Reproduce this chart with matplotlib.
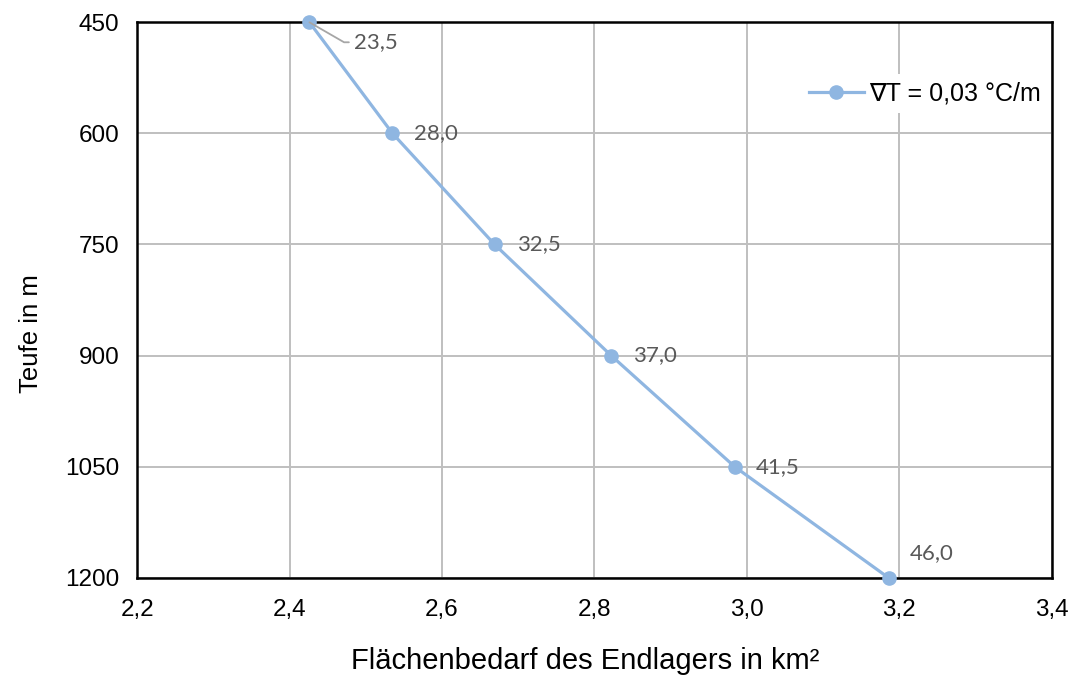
import matplotlib.pyplot as plt
from matplotlib.ticker import FuncFormatter, MultipleLocator

plt.rcParams['font.family'] = ['Liberation Sans', 'DejaVu Sans']

# Flächenbedarf (km²) je Teufe
teufe = [450, 600, 750, 900, 1050, 1200]
flaeche = [2.426, 2.535, 2.669, 2.822, 2.984, 3.186]
temperatur = ['23,5', '28,0', '32,5', '37,0', '41,5', '46,0']

# Versatz der Beschriftungen in Pixel
offsets = [(45, -20), (22, 0), (22, 0), (22, 0), (21, 0), (21, 25)]

blau = '#8fb6e1'

fig = plt.figure(figsize=(10.72, 6.75), dpi=100)
ax = fig.add_axes([0.128, 0.144, 0.853, 0.823])

ax.plot(flaeche, teufe, color=blau, lw=2.3, marker='o', markersize=9.5,
        label='∇T = 0,03 °C/m', zorder=3, clip_on=False)

for i in range(len(teufe)):
    arrow = None
    if i == 0:
        arrow = dict(arrowstyle='-', color='#a6a6a6', lw=1.3, shrinkA=2, shrinkB=0,
                     connectionstyle='angle,angleA=0,angleB=-30,rad=0')
    ax.annotate(temperatur[i], (flaeche[i], teufe[i]), xytext=offsets[i],
                textcoords='offset pixels', ha='left', va='center',
                fontsize=16, color='#595959', family=['Lato', 'DejaVu Sans'],
                arrowprops=arrow)

ax.set_xlim(2.2, 3.4)
ax.set_ylim(1200, 450)
ax.xaxis.set_major_locator(MultipleLocator(0.2))
ax.set_yticks(teufe)
ax.xaxis.set_major_formatter(FuncFormatter(lambda v, p: f'{v:.1f}'.replace('.', ',')))

ax.grid(True, color='#bfbfbf', lw=1.4)
ax.set_axisbelow(True)
for s in ax.spines.values():
    s.set_linewidth(1.8)
    s.set_color('black')

ax.tick_params(axis='both', labelsize=17.5, length=0)
ax.tick_params(axis='y', pad=13)
ax.tick_params(axis='x', pad=15)

ax.set_xlabel('Flächenbedarf des Endlagers in km²', fontsize=21)
ax.xaxis.set_label_coords(0.49, -0.125)
ax.xaxis.label.set_va('top')
ax.set_ylabel('Teufe in m', fontsize=18.5)
ax.yaxis.set_label_coords(-0.103, 0.44)

leg = ax.legend(loc='upper right', bbox_to_anchor=(0.996, 0.906), fontsize=18,
                frameon=True, fancybox=False, edgecolor='none', facecolor='white',
                framealpha=1, handlelength=2.2, handletextpad=0.2, borderpad=0.3,
                borderaxespad=0)

plt.savefig('out.png', dpi=100)
